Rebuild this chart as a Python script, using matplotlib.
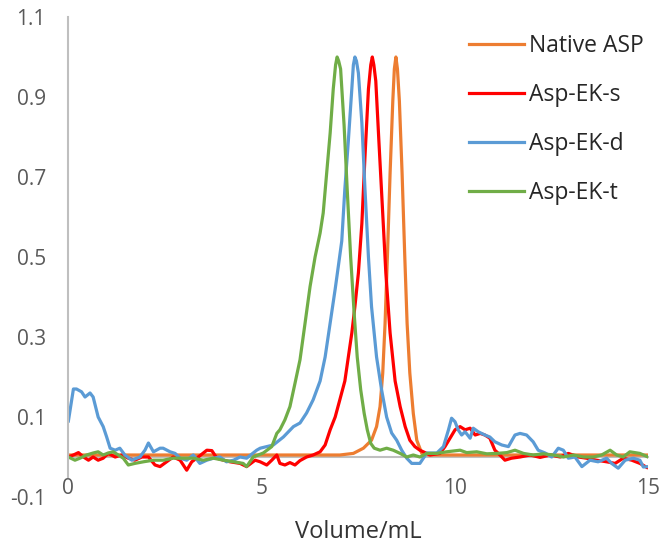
"""SEC elution profiles: Native ASP vs Asp-EK variants"""
import matplotlib
matplotlib.use("Agg")
from matplotlib import pyplot as plt

plt.rcParams['font.family'] = ['Open Sans', 'DejaVu Sans']

# Native ASP (orange)
native_x = [0, 2, 4, 6, 7.03, 7.38, 7.64, 7.85, 7.98, 8.07, 8.14, 8.20, 8.26, 8.33, 8.40,
            8.44, 8.48, 8.52, 8.57, 8.64, 8.71, 8.77, 8.84, 8.93, 9.02, 9.15, 9.32, 10, 12, 15]
native_y = [0.005, 0.005, 0.005, 0.005, 0.005, 0.009, 0.022, 0.042, 0.076, 0.126, 0.21, 0.334,
            0.50, 0.71, 0.89, 0.97, 1.0, 0.97, 0.89, 0.71, 0.50, 0.334, 0.21, 0.109, 0.042,
            0.009, 0.005, 0.005, 0.005, 0.005]

# Asp-EK-s (red)
ek_s_x = [0.01, 0.14, 0.27, 0.40, 0.53, 0.65, 0.78, 0.91, 1.04, 1.22, 1.39, 1.56, 1.73, 1.91,
          2.08, 2.25, 2.38, 2.55, 2.72, 2.90, 3.07, 3.20, 3.37, 3.59, 3.72, 3.85, 4.02, 4.19,
          4.45, 4.62, 4.84, 4.97, 5.14, 5.27, 5.40, 5.48, 5.61, 5.74, 5.87, 6.0, 6.17, 6.34,
          6.52, 6.65, 6.78, 6.91, 7.03, 7.16, 7.25, 7.34, 7.42, 7.51, 7.60, 7.68, 7.77, 7.83,
          7.87, 7.91, 7.96, 8.04, 8.13, 8.22, 8.33, 8.46, 8.59, 8.72, 8.84, 8.97, 9.10, 9.28,
          9.36, 9.62, 9.75, 9.88, 10.01, 10.14, 10.27, 10.40, 10.53, 10.66, 10.78, 10.91,
          11.04, 11.13, 11.30, 11.47, 11.69, 11.95, 12.21, 12.47, 12.73, 12.94, 13.20, 13.41,
          13.67, 13.93, 14.15, 14.36, 14.58, 14.79, 14.97]
ek_s_y = [0.0, 0.005, 0.011, 0.0, -0.008, 0.0, -0.008, -0.003, 0.009, 0.0, 0.005, -0.003,
          -0.008, 0.0, 0.0, -0.02, -0.024, -0.012, 0.0, -0.008, -0.033, -0.012, 0.0, 0.017,
          0.016, -0.003, -0.008, -0.012, -0.016, -0.024, -0.008, -0.012, -0.02, -0.008, 0.005,
          -0.016, -0.02, -0.014, -0.02, -0.009, 0.0, 0.005, 0.013, 0.03, 0.068, 0.10, 0.143,
          0.19, 0.25, 0.31, 0.376, 0.46, 0.584, 0.75, 0.92, 0.98, 1.0, 0.98, 0.94, 0.79, 0.626,
          0.46, 0.31, 0.19, 0.126, 0.076, 0.042, 0.026, 0.017, 0.009, 0.005, 0.009, 0.026,
          0.047, 0.068, 0.076, 0.068, 0.072, 0.055, 0.059, 0.055, 0.047, 0.017, 0.009, -0.008,
          -0.003, 0.0, 0.005, -0.001, 0.005, 0.0, 0.009, 0.0, -0.003, -0.008, -0.012, -0.016,
          -0.003, -0.008, -0.016, -0.026]

# Asp-EK-d (blue)
ek_d_x = [0.01, 0.14, 0.22, 0.35, 0.44, 0.57, 0.65, 0.78, 0.91, 1.0, 1.09, 1.22, 1.34, 1.47,
          1.65, 1.86, 1.99, 2.08, 2.21, 2.38, 2.46, 2.64, 2.77, 2.90, 3.07, 3.24, 3.41, 3.59,
          3.76, 3.93, 4.10, 4.28, 4.45, 4.62, 4.88, 4.97, 5.31, 5.57, 5.83, 6.0, 6.17, 6.34,
          6.52, 6.65, 6.78, 6.91, 6.99, 7.08, 7.16, 7.25, 7.34, 7.38, 7.42, 7.46, 7.51, 7.60,
          7.68, 7.77, 7.85, 7.98, 8.11, 8.24, 8.37, 8.50, 8.63, 8.76, 8.89, 9.02, 9.10, 9.28,
          9.54, 9.71, 9.84, 9.92, 10.01, 10.09, 10.18, 10.27, 10.40, 10.48, 10.61, 10.78,
          10.91, 11.04, 11.22, 11.39, 11.56, 11.69, 11.86, 12.03, 12.16, 12.34, 12.51, 12.68,
          12.81, 12.94, 13.11, 13.29, 13.50, 13.71, 13.93, 14.06, 14.23, 14.41, 14.62, 14.79,
          14.88, 15.0]
ek_d_y = [0.09, 0.17, 0.17, 0.163, 0.15, 0.16, 0.15, 0.10, 0.076, 0.05, 0.022, 0.017, 0.022,
          0.005, -0.008, 0.0, 0.017, 0.035, 0.013, 0.022, 0.022, 0.013, 0.009, -0.003, -0.008,
          0.005, -0.016, -0.008, -0.003, 0.0, -0.012, -0.008, 0.0, -0.003, 0.017, 0.022, 0.03,
          0.05, 0.076, 0.085, 0.11, 0.143, 0.19, 0.25, 0.335, 0.42, 0.476, 0.54, 0.67, 0.79,
          0.92, 0.98, 1.0, 0.99, 0.96, 0.835, 0.67, 0.50, 0.376, 0.25, 0.168, 0.10, 0.06, 0.042,
          0.017, -0.003, -0.016, -0.016, -0.016, 0.01, 0.01, 0.026, 0.068, 0.097, 0.088, 0.068,
          0.055, 0.063, 0.047, 0.072, 0.063, 0.055, 0.05, 0.038, 0.03, 0.026, 0.055, 0.059,
          0.055, 0.038, 0.017, 0.01, 0.0, 0.022, 0.017, -0.003, 0.0, -0.024, -0.008, -0.012,
          -0.003, -0.016, -0.028, -0.008, -0.003, -0.008, -0.025, -0.024]

# Asp-EK-t (green)
ek_t_x = [0.01, 0.18, 0.31, 0.48, 0.65, 0.78, 0.91, 1.04, 1.17, 1.30, 1.43, 1.56, 1.73, 1.95,
          2.21, 2.46, 2.72, 2.98, 3.24, 3.50, 3.76, 4.02, 4.28, 4.53, 4.62, 4.79, 5.05, 5.27,
          5.40, 5.48, 5.61, 5.74, 5.87, 6.0, 6.13, 6.26, 6.39, 6.52, 6.60, 6.69, 6.78, 6.86,
          6.92, 6.96, 7.00, 7.05, 7.14, 7.22, 7.31, 7.40, 7.48, 7.57, 7.66, 7.74, 7.83, 7.92,
          8.07, 8.24, 8.41, 8.59, 8.76, 8.93, 9.10, 9.28, 9.54, 9.79, 10.14, 10.31, 10.57,
          10.83, 11.09, 11.35, 11.56, 11.78, 12.03, 12.29, 12.55, 12.81, 13.07, 13.33, 13.59,
          13.80, 14.02, 14.19, 14.36, 14.53, 14.79, 15.0]
ek_t_y = [0.0, -0.008, -0.003, 0.005, 0.01, 0.013, 0.005, 0.01, 0.013, 0.005, -0.003, -0.02,
          -0.016, -0.012, -0.008, -0.008, -0.003, -0.003, -0.003, -0.008, -0.003, -0.008,
          -0.012, -0.016, -0.024, 0.0, 0.01, 0.026, 0.059, 0.068, 0.093, 0.126, 0.184, 0.243,
          0.334, 0.426, 0.50, 0.56, 0.61, 0.71, 0.81, 0.92, 0.98, 1.0, 0.99, 0.97, 0.83, 0.67,
          0.50, 0.36, 0.25, 0.168, 0.109, 0.068, 0.034, 0.022, 0.017, 0.022, 0.017, 0.009, 0.0,
          0.005, 0.0, 0.009, 0.009, 0.013, 0.017, 0.011, 0.013, 0.008, 0.009, 0.011, 0.017,
          0.009, 0.005, 0.008, 0.005, 0.0, 0.005, 0.0, 0.0, 0.005, 0.017, 0.005, 0.0, 0.013,
          0.009, 0.0]

series = [
    ("Native ASP", native_x, native_y, "#ED7D31"),
    ("Asp-EK-s", ek_s_x, ek_s_y, "#FF0000"),
    ("Asp-EK-d", ek_d_x, ek_d_y, "#5B9BD5"),
    ("Asp-EK-t", ek_t_x, ek_t_y, "#70AD47"),
]

x_ticks = [0, 5, 10, 15]
y_ticks = [-0.1, 0.1, 0.3, 0.5, 0.7, 0.9, 1.1]
y_labels = ["-0.1", "0.1", "0.3", "0.5", "0.7", "0.9", "1.1"]

fig = plt.figure(figsize=(6.6, 5.48), dpi=100)
ax = fig.add_axes([68 / 660, 1 - 497 / 548, 580 / 660, 480 / 548])

for name, xs, ys, color in series:
    ax.plot(xs, ys, color=color, lw=2.3, label=name, solid_joinstyle="round")

ax.set_xlim(0, 15)
ax.set_ylim(-0.1, 1.1)

# Excel-style axes: vertical axis at x=0, horizontal axis crossing at y=0
for side in ("top", "right"):
    ax.spines[side].set_visible(False)
ax.spines["left"].set_bounds(-0.05, 1.1)
ax.spines["left"].set_color("#BFBFBF")
ax.spines["left"].set_linewidth(1.5)
ax.spines["bottom"].set_position(("data", 0))
ax.spines["bottom"].set_color("#BFBFBF")
ax.spines["bottom"].set_linewidth(1.5)
ax.spines["bottom"].set_zorder(0)

ax.set_xticks(x_ticks)
ax.set_yticks(y_ticks, y_labels)
ax.tick_params(axis="both", length=0, labelsize=15, labelcolor="#595959")
ax.tick_params(axis="y", pad=16)
ax.tick_params(axis="x", pad=15)

fig.text(358 / 660, 1 - 532 / 548, "Volume/mL", ha="center", va="center",
         fontsize=17, color="#333333")

leg = ax.legend(loc="upper left", bbox_to_anchor=(448 / 660, 1 - 13 / 548),
                bbox_transform=fig.transFigure, frameon=False, fontsize=16.5,
                handlelength=2.4, handletextpad=0.25, labelspacing=1.1)
for t in leg.get_texts():
    t.set_color("#262626")

fig.savefig("out.png", dpi=100)
